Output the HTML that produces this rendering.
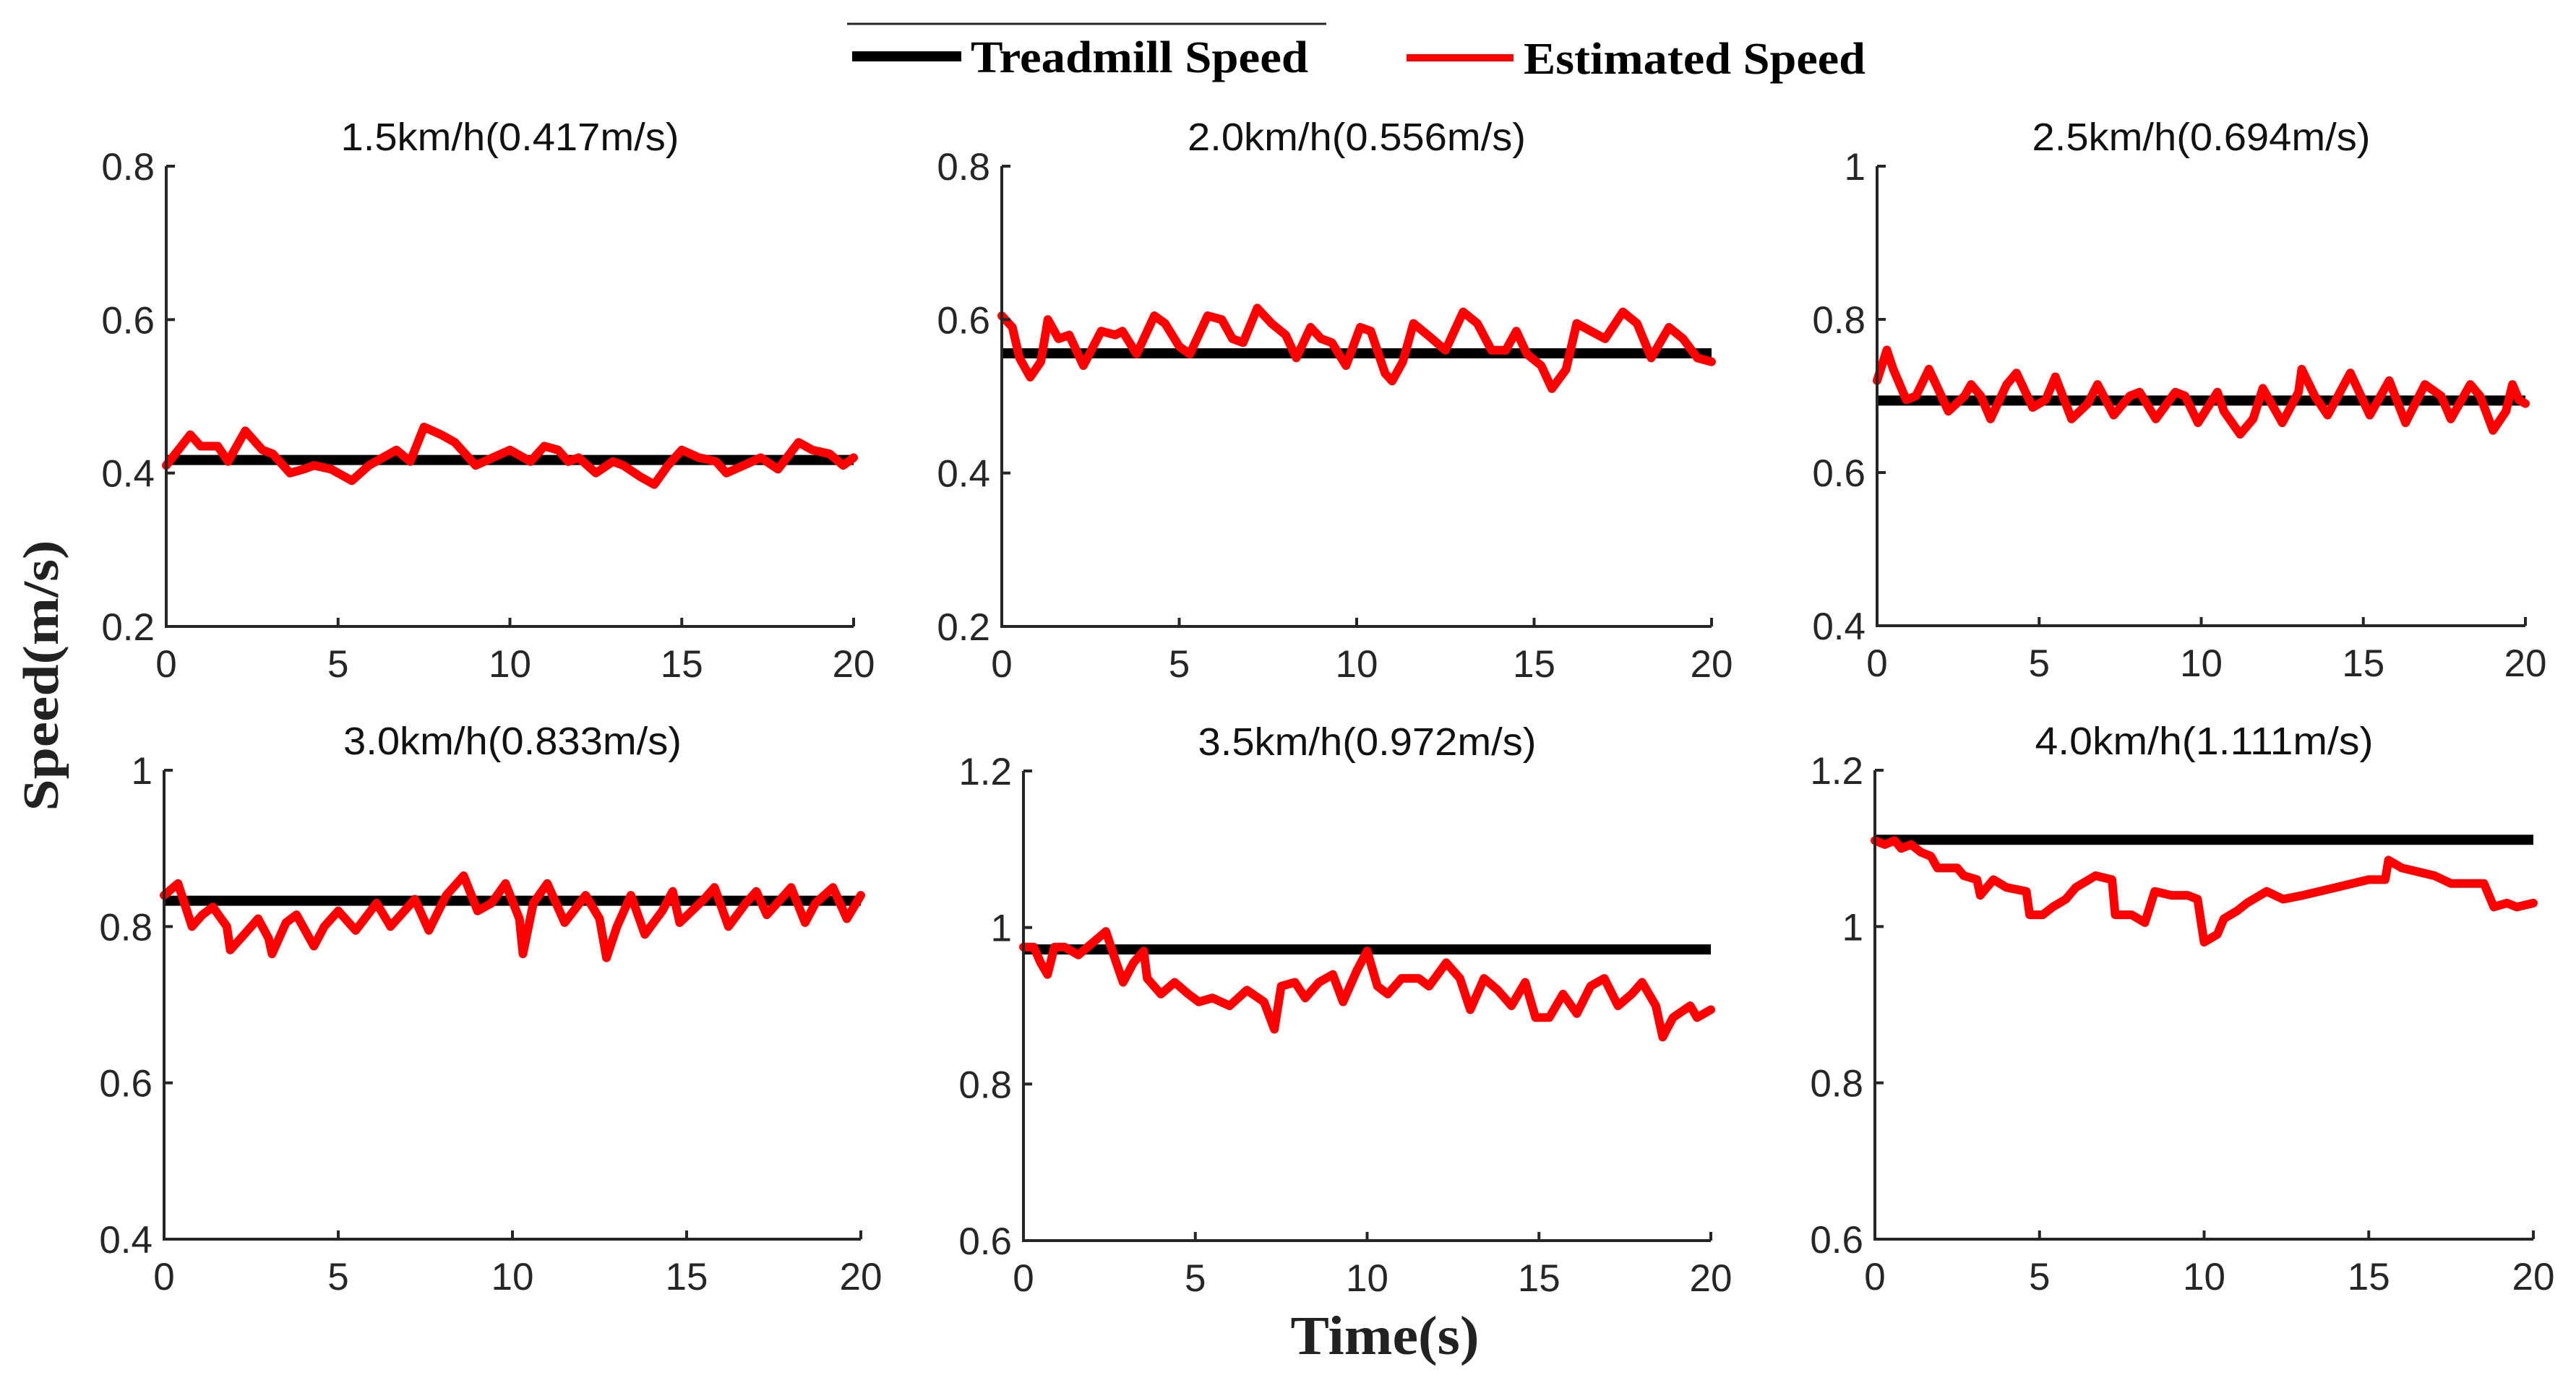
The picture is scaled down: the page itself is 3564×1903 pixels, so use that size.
<!DOCTYPE html>
<html><head><meta charset="utf-8"><style>
html,body{margin:0;padding:0;background:#fff;}
svg{display:block;}
</style></head><body>
<svg id="fig" xmlns="http://www.w3.org/2000/svg" width="3564" height="1903" viewBox="0 0 3564 1903">
<rect x="0" y="0" width="3564" height="1903" fill="#fff"/>
<g>
 <line x1="1172" y1="33" x2="1835" y2="33" stroke="#222" stroke-width="3"/>
 <line x1="1179" y1="78" x2="1330" y2="78" stroke="#000" stroke-width="14"/>
 <text x="1343" y="100" font-family="Liberation Serif, serif" font-weight="bold" font-size="62" textLength="467" lengthAdjust="spacingAndGlyphs">Treadmill Speed</text>
 <line x1="1946" y1="80" x2="2094" y2="80" stroke="#ff0000" stroke-width="10"/>
 <text x="2108" y="102" font-family="Liberation Serif, serif" font-weight="bold" font-size="62" textLength="473" lengthAdjust="spacingAndGlyphs">Estimated Speed</text>
</g>
<text transform="translate(80,935) rotate(-90)" text-anchor="middle" font-family="Liberation Serif, serif" font-weight="bold" font-size="70" fill="#222" textLength="375" lengthAdjust="spacingAndGlyphs">Speed(m/s)</text>
<text x="1916" y="1874" text-anchor="middle" font-family="Liberation Serif, serif" font-weight="bold" font-size="76" fill="#222" textLength="261" lengthAdjust="spacingAndGlyphs">Time(s)</text>
<g id="panels"></g>
</svg>
<script>
const titles = ["1.5km/h(0.417m/s)","2.0km/h(0.556m/s)","2.5km/h(0.694m/s)","3.0km/h(0.833m/s)","3.5km/h(0.972m/s)","4.0km/h(1.111m/s)"];
const treadmill = [0.417,0.556,0.694,0.833,0.972,1.111];
const yTicks = [[0.2,0.4,0.6,0.8],[0.2,0.4,0.6,0.8],[0.4,0.6,0.8,1]
 ,[0.4,0.6,0.8,1],[0.6,0.8,1,1.2],[0.6,0.8,1,1.2]];
const yTickLabels = [["0.2","0.4","0.6","0.8"],["0.2","0.4","0.6","0.8"],["0.4","0.6","0.8","1"],["0.4","0.6","0.8","1"],["0.6","0.8","1","1.2"],["0.6","0.8","1","1.2"]];
const xTicks = [0,5,10,15,20];
const xTickLabels = ["0","5","10","15","20"];

const t1 = [0,0.7,1.0,1.5,1.8,2.3,2.8,3.1,3.6,4.0,4.3,4.8,5.4,5.9,6.3,6.7,7.1,7.5,8.0,8.4,9.0,9.5,10.0,10.6,11.0,11.4,11.7,12.0,12.5,13.0,13.3,13.8,14.2,14.6,15.0,15.5,16.0,16.3,16.8,17.3,17.8,18.4,18.8,19.3,19.7,20];
const v1 = [0.41,0.45,0.435,0.435,0.415,0.455,0.43,0.425,0.40,0.405,0.41,0.405,0.39,0.41,0.42,0.43,0.415,0.46,0.45,0.44,0.41,0.42,0.43,0.415,0.435,0.43,0.415,0.42,0.40,0.415,0.41,0.395,0.385,0.41,0.43,0.42,0.415,0.40,0.41,0.42,0.405,0.44,0.43,0.425,0.41,0.42];
const t2 = [0,0.3,0.5,0.8,1.1,1.3,1.6,1.9,2.3,2.8,3.2,3.4,3.8,4.3,4.6,5.0,5.3,5.8,6.2,6.5,6.8,7.2,7.6,8.0,8.3,8.7,9.0,9.3,9.7,10.1,10.4,10.8,11.0,11.3,11.6,12.0,12.5,13.0,13.4,13.8,14.2,14.5,14.8,15.2,15.5,15.9,16.2,16.6,17.0,17.5,17.9,18.3,18.8,19.2,19.6,20];
const v2 = [0.605,0.59,0.55,0.525,0.545,0.6,0.575,0.58,0.54,0.585,0.58,0.585,0.555,0.605,0.595,0.565,0.555,0.605,0.6,0.575,0.57,0.615,0.595,0.58,0.55,0.59,0.575,0.57,0.54,0.59,0.585,0.53,0.52,0.545,0.595,0.58,0.56,0.61,0.595,0.56,0.56,0.585,0.555,0.54,0.51,0.535,0.595,0.585,0.575,0.61,0.595,0.55,0.59,0.575,0.55,0.545];
const t3 = [0,0.3,0.5,0.9,1.2,1.6,2.2,2.7,2.9,3.2,3.5,4.0,4.3,4.8,5.2,5.5,6.0,6.5,6.8,7.3,7.8,8.1,8.6,9.2,9.5,9.9,10.5,10.7,11.2,11.6,11.9,12.5,13.0,13.1,13.5,13.9,14.6,15.2,15.8,16.3,16.9,17.4,17.7,18.3,18.6,19.0,19.4,19.6,19.8,20];
const v3 = [0.72,0.76,0.735,0.695,0.70,0.735,0.68,0.70,0.715,0.70,0.67,0.715,0.73,0.685,0.695,0.725,0.67,0.69,0.715,0.675,0.70,0.705,0.67,0.705,0.70,0.665,0.705,0.68,0.65,0.67,0.71,0.665,0.705,0.735,0.70,0.675,0.73,0.675,0.72,0.665,0.715,0.70,0.67,0.715,0.70,0.655,0.68,0.715,0.695,0.69];
const t4 = [0,0.4,0.8,1.1,1.4,1.8,1.9,2.3,2.7,3.0,3.1,3.5,3.8,4.3,4.6,5.0,5.5,6.1,6.5,7.2,7.6,8.1,8.6,9.0,9.4,9.8,10.2,10.3,10.6,11.0,11.5,12.1,12.5,12.7,13.0,13.4,13.8,14.3,14.6,14.8,15.5,15.8,16.2,16.7,17.0,17.3,18.0,18.4,18.7,19.2,19.6,20];
const v4 = [0.84,0.855,0.80,0.815,0.825,0.80,0.77,0.79,0.81,0.785,0.765,0.805,0.815,0.775,0.80,0.82,0.795,0.83,0.80,0.835,0.795,0.84,0.865,0.82,0.83,0.855,0.81,0.765,0.83,0.855,0.805,0.84,0.81,0.76,0.80,0.84,0.79,0.82,0.845,0.805,0.835,0.85,0.80,0.83,0.845,0.815,0.85,0.805,0.83,0.85,0.81,0.84];
const t5 = [0,0.3,0.5,0.7,0.9,1.2,1.6,2.0,2.4,2.7,2.9,3.2,3.5,3.6,4.0,4.4,4.8,5.1,5.5,6.0,6.5,7.0,7.3,7.5,7.9,8.2,8.6,9.0,9.3,9.7,10.0,10.3,10.6,11.0,11.5,11.8,12.3,12.7,13.0,13.4,13.8,14.2,14.6,14.9,15.3,15.7,16.1,16.5,16.9,17.3,17.7,18.0,18.4,18.6,18.9,19.4,19.6,20];
const v5 = [0.975,0.975,0.955,0.94,0.975,0.975,0.965,0.98,0.995,0.955,0.93,0.955,0.97,0.935,0.915,0.93,0.915,0.905,0.91,0.90,0.92,0.905,0.87,0.925,0.93,0.91,0.93,0.94,0.905,0.945,0.97,0.925,0.915,0.935,0.935,0.925,0.955,0.935,0.895,0.935,0.92,0.90,0.93,0.885,0.885,0.915,0.89,0.925,0.935,0.90,0.915,0.93,0.90,0.86,0.885,0.90,0.885,0.895];
const t6 = [0,0.3,0.6,0.8,1.1,1.4,1.7,1.9,2.5,2.7,3.1,3.2,3.6,4.0,4.6,4.7,5.1,5.4,5.8,6.1,6.7,7.2,7.3,7.8,8.2,8.5,9.0,9.5,9.8,10.0,10.4,10.6,11.0,11.3,11.9,12.4,13.0,13.5,14.0,14.5,15.0,15.5,15.6,16.0,16.5,17.0,17.5,18.0,18.5,18.8,19.2,19.5,20];
const v6 = [1.11,1.105,1.11,1.10,1.105,1.095,1.09,1.075,1.075,1.065,1.06,1.04,1.06,1.05,1.045,1.015,1.015,1.025,1.035,1.05,1.065,1.06,1.015,1.015,1.005,1.045,1.04,1.04,1.035,0.98,0.99,1.01,1.02,1.03,1.045,1.035,1.04,1.045,1.05,1.055,1.06,1.06,1.085,1.075,1.07,1.065,1.055,1.055,1.055,1.025,1.03,1.025,1.03];

const times = [t1,t2,t3,t4,t5,t6];
const values = [v1,v2,v3,v4,v5,v6];
const boxes = [[230,1181,230,867],[1386,2368,230,867],[2597,3494,230,866],[227,1191,1066,1715],[1416,2367,1067,1717],[2594,3505,1066,1715]];
const NS = "http://www.w3.org/2000/svg";
const root = document.getElementById("panels");
function mk(tag, attrs, parent){const e=document.createElementNS(NS,tag);for(const k in attrs)e.setAttribute(k,attrs[k]);parent.appendChild(e);return e;}
for(let p=0;p<6;p++){
  const [L,R,T,B]=boxes[p];
  const yt=yTicks[p]; const ymin=yt[0], ymax=yt[yt.length-1];
  const xs=t=>L+(t-0)/20*(R-L);
  const ys=v=>B-(v-ymin)/(ymax-ymin)*(B-T);
  const g=mk("g",{},root);
  
  
  const title=mk("text",{x:(L+R)/2,y:T-22,"text-anchor":"middle","font-family":"Liberation Sans, Arial, sans-serif","font-size":"54",fill:"#111",textLength:"468",lengthAdjust:"spacingAndGlyphs"},g);
  title.textContent=titles[p];
  
  
  const tl=mk("line",{x1:xs(0),x2:xs(20),y1:ys(treadmill[p]),y2:ys(treadmill[p]),stroke:"#000","stroke-width":"14"},g);
  
  
  let d="";
  for(let i=0;i<times[p].length;i++){d+=(i?"L":"M")+xs(times[p][i]).toFixed(1)+","+ys(values[p][i]).toFixed(1);}
  const el=mk("path",{d:d,fill:"none",stroke:"#ff0000","stroke-width":"12","stroke-linejoin":"round","stroke-linecap":"round"},g);
  
  
  const ax=mk("path",{d:`M${L},${T}L${L},${B}L${R},${B}`,fill:"none",stroke:"#262626","stroke-width":"4"},g);
  
  
  for(let i=0;i<yt.length;i++){
    const y=ys(yt[i]);
    mk("line",{x1:L,x2:L+12,y1:y,y2:y,stroke:"#262626","stroke-width":"4"},g);
    const tx=mk("text",{x:L-16,y:y+19,"text-anchor":"end","font-family":"Liberation Sans, Arial, sans-serif","font-size":"53",fill:"#262626"},g);
    tx.textContent=yTickLabels[p][i];
    
    
  }
  for(let i=0;i<xTicks.length;i++){
    const x=xs(xTicks[i]);
    mk("line",{x1:x,x2:x,y1:B,y2:B-12,stroke:"#262626","stroke-width":"4"},g);
    const tx=mk("text",{x:x,y:B+70,"text-anchor":"middle","font-family":"Liberation Sans, Arial, sans-serif","font-size":"53",fill:"#262626"},g);
    tx.textContent=xTickLabels[i];
    
    
  }
}
</script>
</body></html>
